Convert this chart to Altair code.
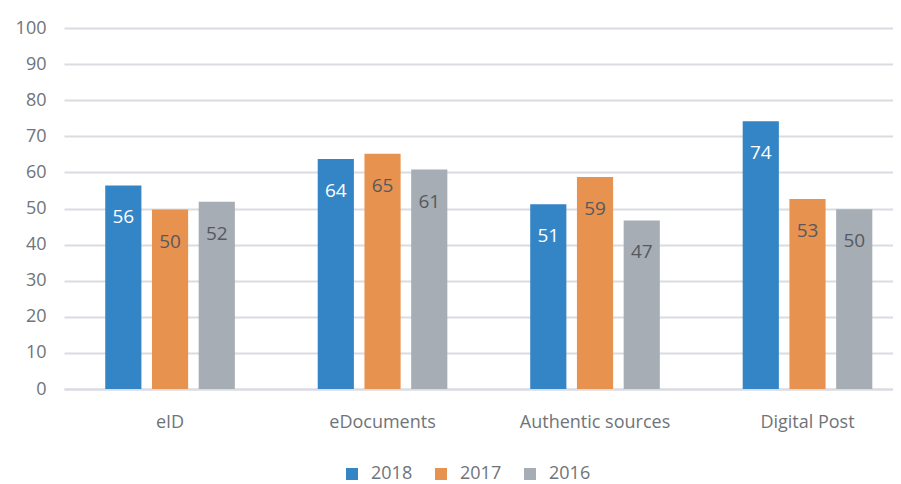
import altair as alt
import pandas as pd

categories = ["eID", "eDocuments", "Authentic sources", "Digital Post"]
years = ["2018", "2017", "2016"]
v2018 = [56.4, 63.7, 51.2, 74.2]
v2017 = [49.7, 65.2, 58.7, 52.6]
v2016 = [51.9, 60.8, 46.7, 49.8]
colors = ["#3385c6", "#e8924f", "#a7adb5"]

rows = []
for yr, vals in zip(years, [v2018, v2017, v2016]):
    for c, v in zip(categories, vals):
        rows.append({"category": c, "year": yr, "value": v, "label": str(int(round(v)))})
df = pd.DataFrame(rows)

FONT = "Open Sans"
GRID = "#d9dce1"

x_enc = alt.X(
    "category:N", sort=categories, title=None,
    scale=alt.Scale(paddingInner=0.39, paddingOuter=0.1457, align=0.666),
    axis=alt.Axis(labelAngle=0, ticks=False, grid=False, domainColor=GRID, domainWidth=2,
                  labelColor="#6f7479", labelFontSize=18, labelFont=FONT, labelPadding=24),
)
xo_enc = alt.XOffset("year:N", sort=years, scale=alt.Scale(paddingInner=0.226, paddingOuter=0))
y_enc = alt.Y(
    "value:Q", title=None,
    scale=alt.Scale(domain=[0, 100], nice=False),
    axis=alt.Axis(values=list(range(0, 101, 10)), ticks=False, domain=False, gridColor=GRID,
                  gridWidth=2, labelColor="#6f7479", labelFontSize=18, labelFont=FONT,
                  labelPadding=18),
)

bars = alt.Chart(df).mark_bar().encode(
    x=x_enc, xOffset=xo_enc, y=y_enc,
    color=alt.Color("year:N", sort=years, scale=alt.Scale(domain=years, range=colors),
                    legend=alt.Legend(title=None, orient="none", legendX=279, legendY=437,
                                      direction="horizontal", symbolType="square",
                                      symbolSize=144, symbolStrokeWidth=0,
                                      labelFontSize=18, labelFont=FONT, labelColor="#6f7479",
                                      labelOffset=10, columnPadding=19)),
)

text = alt.Chart(df).mark_text(baseline="middle", dy=32, fontSize=19, font=FONT).encode(
    x=x_enc, xOffset=xo_enc, y=y_enc, text="label:N",
    color=alt.condition(alt.datum.year == "2018", alt.value("white"), alt.value("#555a5f")),
)

chart = alt.layer(bars, text).properties(
    width=829, height=361,
    autosize=alt.AutoSizeParams(type="none"),
    padding={"left": 56, "top": 20, "right": 0, "bottom": 103},
).configure_view(stroke=None)

chart.save("out.html", embed_options={"renderer": "svg", "actions": False})
